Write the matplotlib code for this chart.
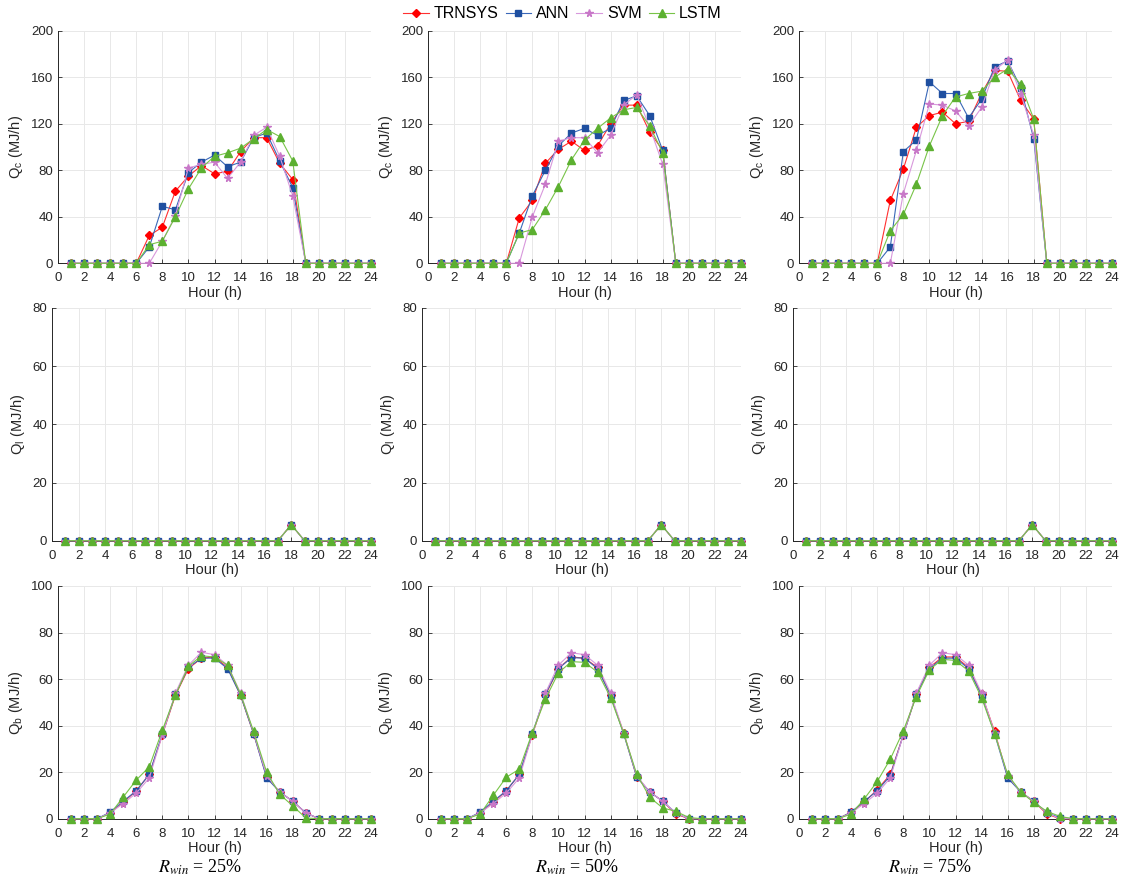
import numpy as np
import matplotlib
matplotlib.use("Agg")
import matplotlib.pyplot as plt

plt.rcParams['font.family'] = ['Liberation Sans', 'DejaVu Sans']
plt.rcParams['mathtext.fontset'] = 'stix'

hours = list(range(1, 25))
models = ["TRNSYS", "ANN", "SVM", "LSTM"]
ratios = ["25%", "50%", "75%"]

z6 = [0, 0, 0, 0, 0, 0]
z = lambda n: [0] * n

# Cooling load Qc (MJ/h), R_win = 25%, 50%, 75%
qc_25_trnsys = z6 + [24, 31, 62, 75, 84, 77, 79, 96, 108, 108, 86, 72] + z(6)
qc_25_ann    = z6 + [14, 49, 46, 78, 87, 93, 83, 87, 108, 112, 88, 65] + z(6)
qc_25_svm    = z6 + [0, 19, 41, 82, 85, 87, 73, 87, 110, 117, 92, 58] + z(6)
qc_25_lstm   = z6 + [16, 19, 40, 64, 82, 92, 95, 99, 107, 115, 109, 88] + z(6)

qc_50_trnsys = z6 + [39, 54, 86, 98, 105, 97, 101, 120, 136, 136, 113, 97] + z(6)
qc_50_ann    = z6 + [26, 58, 80, 101, 112, 116, 110, 116, 140, 144, 127, 97] + z(6)
qc_50_svm    = z6 + [0, 40, 68, 105, 108, 108, 95, 110, 136, 145, 117, 85] + z(6)
qc_50_lstm   = z6 + [26, 29, 46, 66, 89, 106, 116, 125, 132, 134, 118, 95] + z(6)

qc_75_trnsys = z6 + [54, 81, 117, 127, 130, 120, 122, 146, 166, 165, 140, 124] + z(6)
qc_75_ann    = z6 + [14, 96, 106, 156, 146, 146, 125, 141, 169, 174, 151, 107] + z(6)
qc_75_svm    = z6 + [0, 60, 97, 137, 136, 131, 118, 134, 166, 175, 146, 110] + z(6)
qc_75_lstm   = z6 + [28, 42, 68, 101, 127, 143, 146, 148, 160, 167, 154, 124] + z(6)

# Latent load Ql (MJ/h): same for all ratios and models
ql_all = z(17) + [5.5] + z(6)

# Qb (MJ/h)
qb_25_trnsys = [0, 0, 0, 2.5, 7, 12, 19, 36, 53, 64.5, 69, 69.5, 65, 53, 36.5, 18, 11.5, 7.5, 2.5, 0, 0, 0, 0, 0]
qb_25_ann    = [0, 0, 0, 2.8, 7.5, 12, 19, 36.5, 53.5, 65, 69, 69, 64.5, 53, 36.5, 17.5, 11.5, 7.5, 2.5, 0, 0, 0, 0, 0]
qb_25_svm    = [0, 0, 0, 2.5, 6.5, 11, 17.5, 36, 54, 66, 71.5, 70.5, 66, 54, 37, 18.5, 11.5, 7.5, 2.5, 0, 0, 0, 0, 0]
qb_25_lstm   = [0, 0, 0, 2, 9.3, 16.6, 22.3, 38, 53, 65.5, 70, 69.5, 66, 53.5, 37.5, 20, 10.5, 5.5, 0.3, 0, 0, 0, 0, 0]

qb_50_trnsys = [0, 0, 0, 2.5, 7, 12, 19, 36, 53, 64.5, 69.5, 69, 65, 53, 37, 18, 11.5, 7.5, 2, 0, 0, 0, 0, 0]
qb_50_ann    = [0, 0, 0, 2.8, 7.5, 12, 19, 36.5, 53.5, 64.5, 69.2, 69, 64.5, 53, 36.5, 18, 11.5, 7.5, 2.5, 0, 0, 0, 0, 0]
qb_50_svm    = [0, 0, 0, 2.5, 6.5, 11, 17.5, 36, 54, 66, 71.3, 70.5, 66, 54, 37, 18.5, 11.5, 7.5, 2.5, 0, 0, 0, 0, 0]
qb_50_lstm   = [0, 0, 0, 2, 10, 17.8, 21.3, 37, 51.4, 62.7, 67.5, 67.2, 63, 52, 36.7, 19.2, 9.2, 4.6, 3.2, 0.5, 0, 0, 0, 0]

qb_75_trnsys = [0, 0, 0, 2.8, 7, 12.5, 19, 36, 53.5, 65, 69.5, 69.5, 65, 53.5, 37.5, 18, 11.5, 7.5, 2, 0, 0, 0, 0, 0]
qb_75_ann    = [0, 0, 0, 2.8, 7.5, 12, 18.5, 36, 53.5, 64.5, 69, 69, 64.5, 53, 36.5, 17.5, 11.5, 7.5, 2.5, 0.5, 0, 0, 0, 0]
qb_75_svm    = [0, 0, 0, 2.5, 6.5, 11, 17.5, 36, 54, 66, 71.3, 70.5, 66, 54, 37, 18.5, 11.5, 7.5, 2.5, 0, 0, 0, 0, 0]
qb_75_lstm   = [0, 0, 0, 2, 8.5, 16, 25.6, 37.8, 52.5, 64, 68.5, 68, 63.5, 52, 36.5, 19, 11.5, 7, 3.2, 1, 0, 0, 0, 0]

rows = [
    ([qc_25_trnsys, qc_25_ann, qc_25_svm, qc_25_lstm],
     [qc_50_trnsys, qc_50_ann, qc_50_svm, qc_50_lstm],
     [qc_75_trnsys, qc_75_ann, qc_75_svm, qc_75_lstm]),
    ([ql_all] * 4, [ql_all] * 4, [ql_all] * 4),
    ([qb_25_trnsys, qb_25_ann, qb_25_svm, qb_25_lstm],
     [qb_50_trnsys, qb_50_ann, qb_50_svm, qb_50_lstm],
     [qb_75_trnsys, qb_75_ann, qb_75_svm, qb_75_lstm]),
]
ylabels = [r'Q$_\mathregular{c}$ (MJ/h)', r'Q$_\mathregular{l}$ (MJ/h)', r'Q$_\mathregular{b}$ (MJ/h)']
ylims = [(0, 200, 40), (0, 80, 20), (0, 100, 20)]

styles = [
    dict(color='#ff3030', marker='D', ms=4.2, mfc='#ff0000', mec='#ff0000'),
    dict(color='#3a68b8', marker='s', ms=4.2, mfc='#1f4fa0', mec='#1f4fa0'),
    dict(color='#d898dc', marker='*', ms=5.5, mfc='#c878c8', mec='#c878c8'),
    dict(color='#78c448', marker='^', ms=5.2, mfc='#5cb030', mec='#5cb030'),
]

W, H = 1125, 885
fig = plt.figure(figsize=(W / 100, H / 100), dpi=100)

lefts_main = [58, 428, 799]
lefts_mid = [52, 422, 793]
rights = [371, 741, 1112]
tops = [30.7, 308, 586]
bots = [263.3, 540.7, 818.7]

axcol = '#262626'
handles = None
for r in range(3):
    for c in range(3):
        left = lefts_mid[c] if r == 1 else lefts_main[c]
        ax = fig.add_axes([left / W, 1 - bots[r] / H, (rights[c] - left) / W, (bots[r] - tops[r]) / H])
        hs = []
        for m in range(4):
            h, = ax.plot(hours, rows[r][c][m], lw=0.8, clip_on=False, zorder=3 + m, **styles[m])
            hs.append(h)
        handles = hs
        ax.set_xlim(0, 24)
        ax.set_xticks(range(0, 25, 2))
        lo, hi, st = ylims[r]
        ax.set_ylim(lo, hi)
        ax.set_yticks(np.arange(lo, hi + 1, st))
        ax.grid(True, color='#e8e8e8', lw=0.7)
        ax.set_axisbelow(True)
        for s in ['top', 'right']:
            ax.spines[s].set_visible(False)
        for s in ['left', 'bottom']:
            ax.spines[s].set_color(axcol)
            ax.spines[s].set_linewidth(0.7)
        ax.tick_params(direction='in', length=3, width=0.6, colors=axcol, labelsize=9.5)
        ax.tick_params(axis='x', pad=6.5)
        ax.tick_params(axis='y', pad=3.5)
        ax.set_xlabel('Hour (h)', fontsize=10.5, color=axcol, labelpad=1)
        ax.set_ylabel(ylabels[r], fontsize=10.5, color=axcol, labelpad=4)

fig.legend(handles, models, loc='center', bbox_to_anchor=(0.5, 1 - 14 / H), ncol=4,
           frameon=False, fontsize=11.5, handlelength=1.6, handletextpad=0.3,
           columnspacing=0.45, borderaxespad=0)

text_x = [200, 577, 930]
for x, rt in zip(text_x, ratios):
    fig.text(x / W, 1 - 867 / H, r'$R_{win}$' + ' = ' + rt, ha='center', va='center',
             fontsize=13, family='Liberation Serif')

fig.savefig('out.png', dpi=100)
